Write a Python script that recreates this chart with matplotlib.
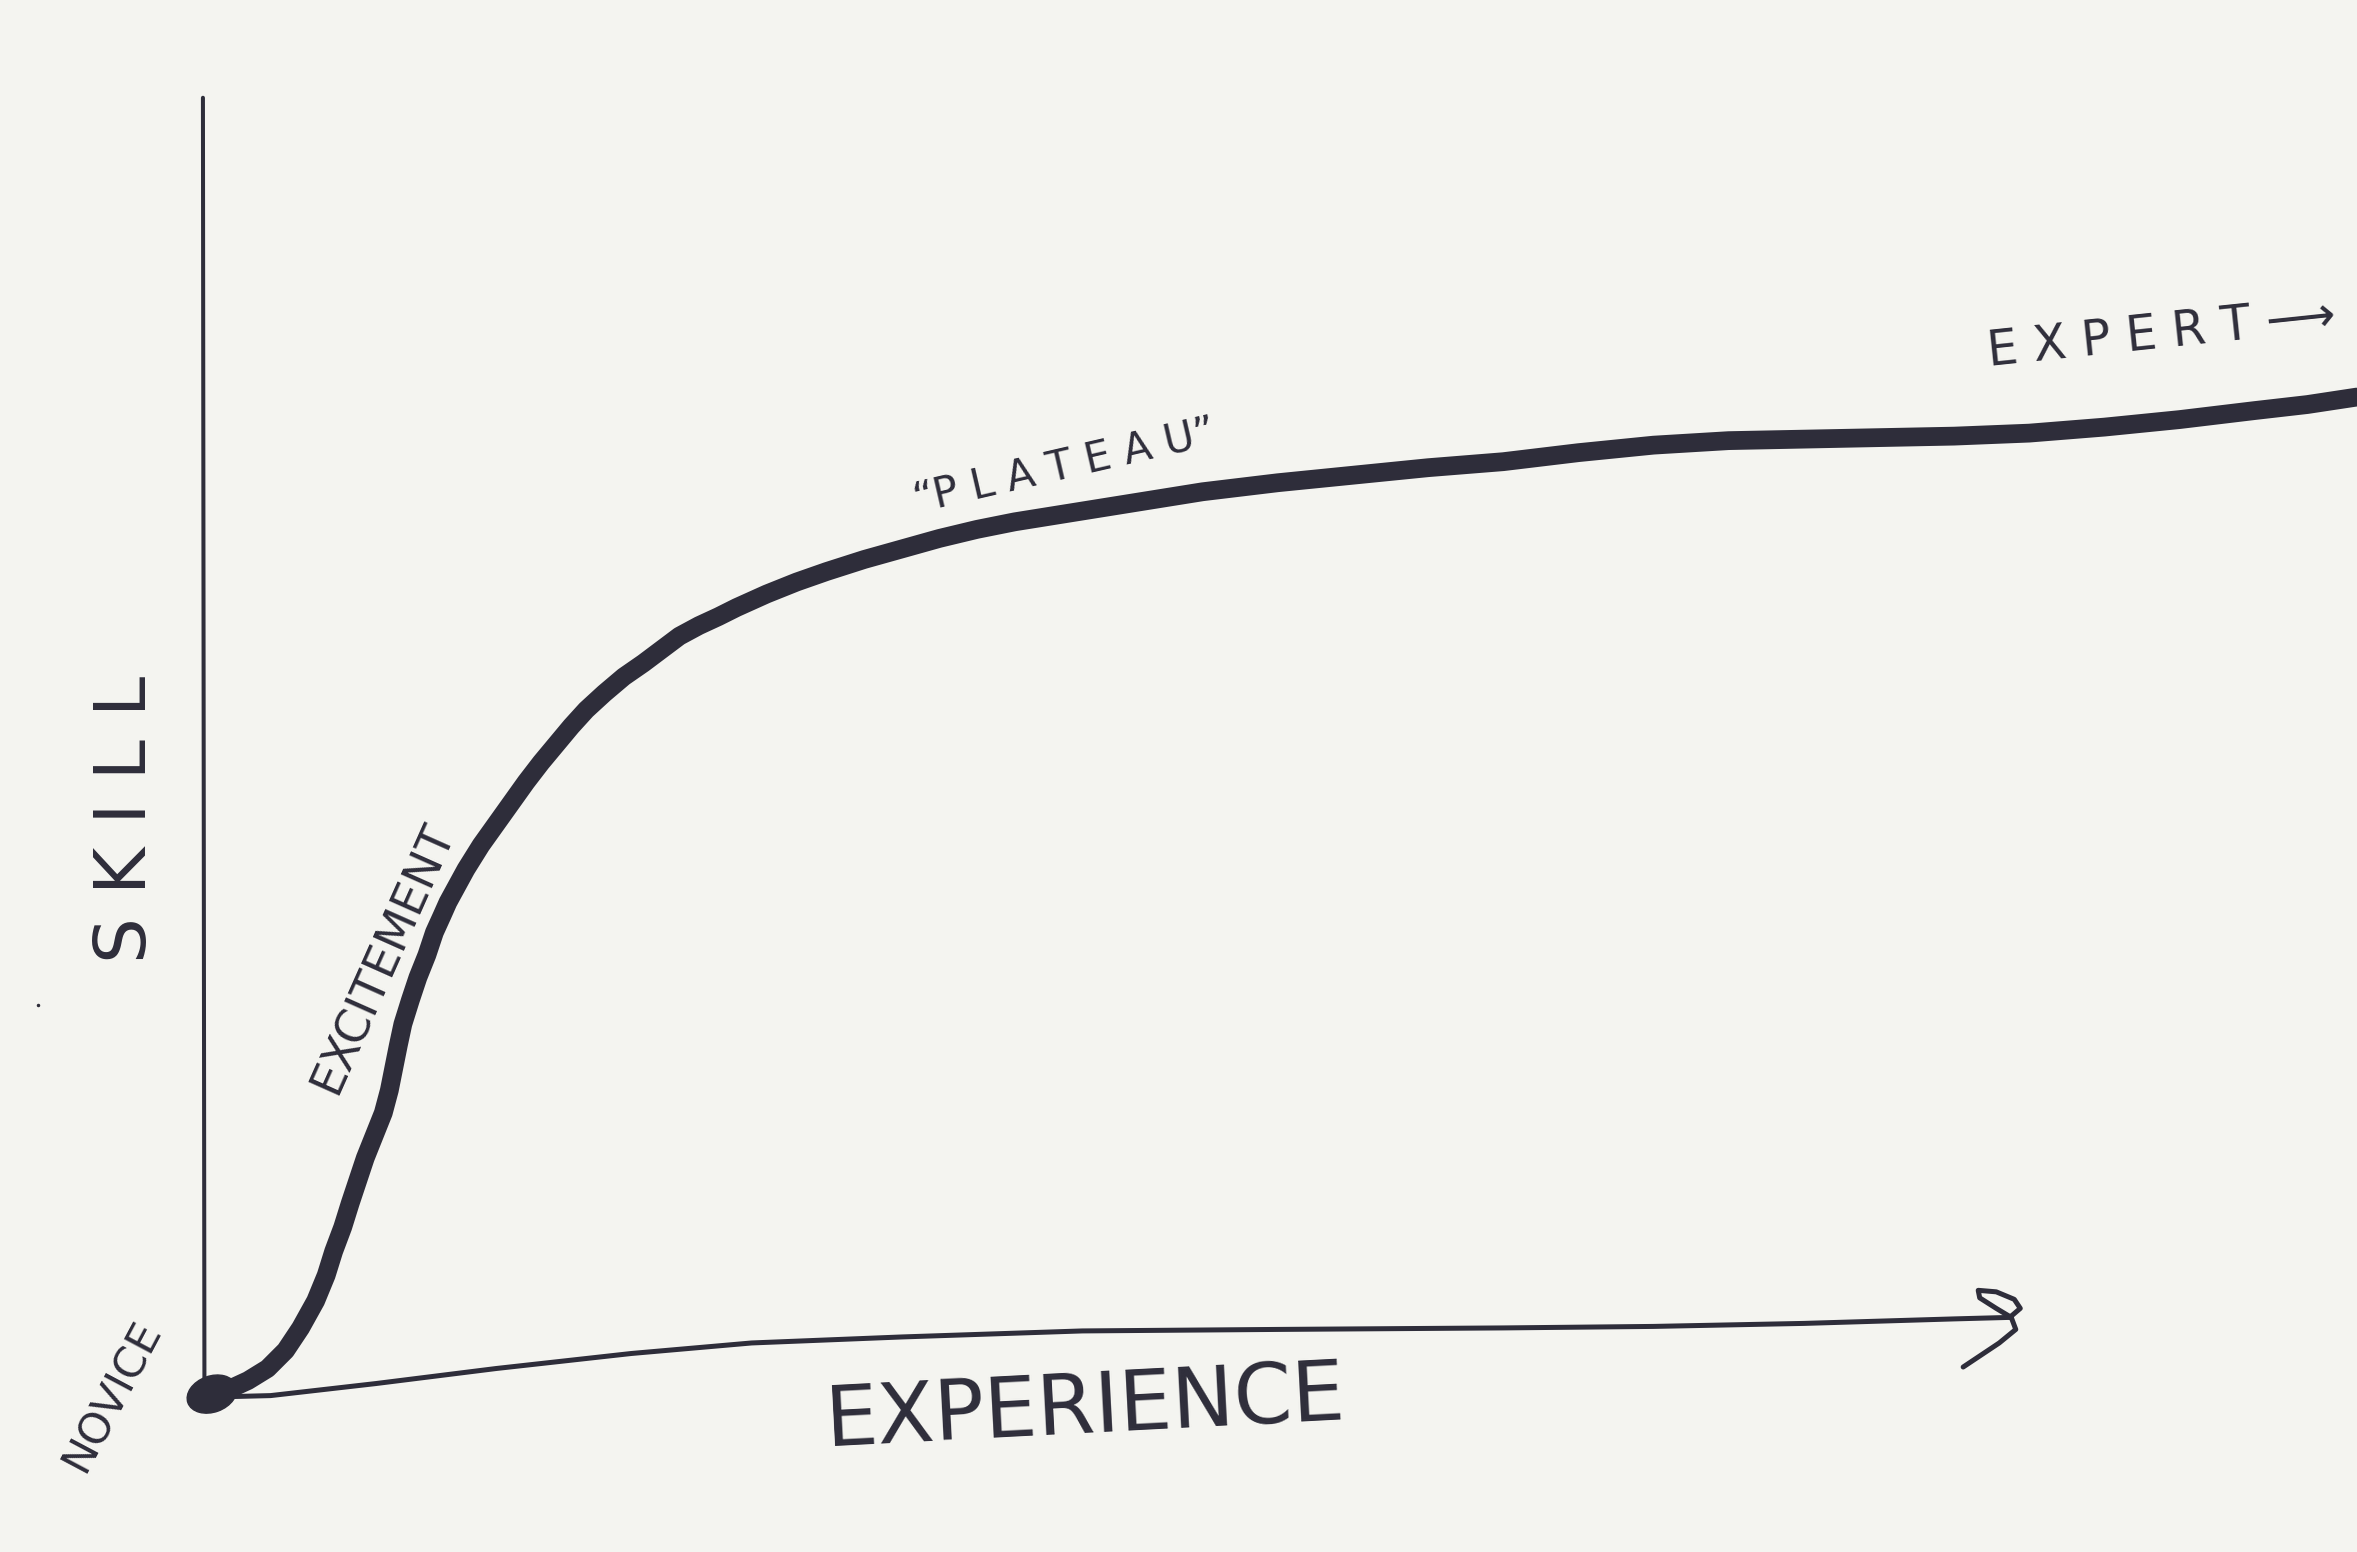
import matplotlib.pyplot as plt
from matplotlib.patches import Ellipse

# colours
bg = '#f4f4f0'
ink = '#2e2d3a'

# skill curve (x = experience, y = skill) (image px, y down)
curve_x = [140, 152, 165, 178, 190, 200, 210, 217, 222, 228, 233, 238, 243, 249,
           255, 259, 262, 265, 268, 273, 278, 284, 289, 294, 298, 304, 310, 320,
           330, 340, 350, 360, 370, 380, 390, 402, 415, 428, 440, 452, 465, 478,
           490, 510, 530, 550, 575, 600, 625, 650, 675, 700, 750, 800, 850, 900,
           950, 1000, 1050, 1100, 1150, 1200, 1250, 1300, 1350, 1400, 1450, 1500,
           1535, 1568]
curve_y = [925, 924, 918, 910, 898, 883, 865, 848, 832, 816, 800, 785, 770, 755,
           740, 725, 710, 695, 681, 665, 650, 635, 620, 609, 600, 589, 578, 562,
           548, 534, 520, 507, 495, 483, 472, 461, 450, 441, 432, 423, 416, 410,
           404, 395, 387, 380, 372, 365, 358, 352, 347, 343, 335, 327, 321, 316,
           311, 307, 301, 296, 293, 292, 291, 290, 288, 284, 279, 273, 269, 264]

# axes strokes
yaxis_x = [135, 135.5, 136]
yaxis_y = [65, 500, 925]
xaxis_x = [140, 180, 250, 330, 420, 500, 600, 720, 850, 1000, 1100, 1200, 1300, 1337]
xaxis_y = [929, 928, 920, 910, 900, 893, 889, 885, 884, 883, 882, 880, 877, 876]
arrow_x = [1337, 1344, 1340, 1328, 1316, 1317, 1328, 1338, 1341, 1330, 1318, 1306]
arrow_y = [876, 870, 864, 859, 858, 863, 870, 876, 884, 893, 901, 909]

fig = plt.figure(figsize=(23.57, 15.52), dpi=100)
fig.patch.set_facecolor(bg)
ax = fig.add_axes([0, 0, 1, 1])
ax.set_facecolor(bg)
ax.set_xlim(0, 1568)
ax.set_ylim(1032, 0)
ax.axis('off')

ax.plot(yaxis_x, yaxis_y, color=ink, lw=2.9, solid_capstyle='round')
ax.plot(xaxis_x, xaxis_y, color=ink, lw=3.6, solid_capstyle='round')
ax.plot(arrow_x, arrow_y, color=ink, lw=3.6, solid_capstyle='round', solid_joinstyle='round')
ax.plot(curve_x, curve_y, color=ink, lw=13.5, solid_capstyle='round', solid_joinstyle='round')
ax.add_patch(Ellipse((141, 927), 34, 24, angle=-20, color=ink))
ax.plot([25], [668], 'o', color=ink, ms=1.5)

# labels
ax.text(84, 545, 'S K I L L', rotation=90, ha='center', va='center',
        fontsize=52, color=ink, family='DejaVu Sans')
ax.text(722, 937, 'EXPERIENCE', rotation=3, ha='center', va='center',
        fontsize=60, color=ink, family='DejaVu Sans')
ax.text(1438, 222, 'E X P E R T \u27f6', rotation=6, ha='center', va='center',
        fontsize=35, color=ink, family='DejaVu Sans')
ax.text(708, 310, '\u201cP L A T E A U\u201d', rotation=13, ha='center', va='center',
        fontsize=30, color=ink, family='DejaVu Sans')
ax.text(255, 637, 'EXCITEMENT', rotation=66, ha='center', va='center',
        fontsize=33, color=ink, family='DejaVu Sans')
ax.text(75, 928, 'NOVICE', rotation=62, ha='center', va='center',
        fontsize=31, color=ink, family='DejaVu Sans')

plt.savefig('out.png', dpi=100, facecolor=bg)
plt.close()
